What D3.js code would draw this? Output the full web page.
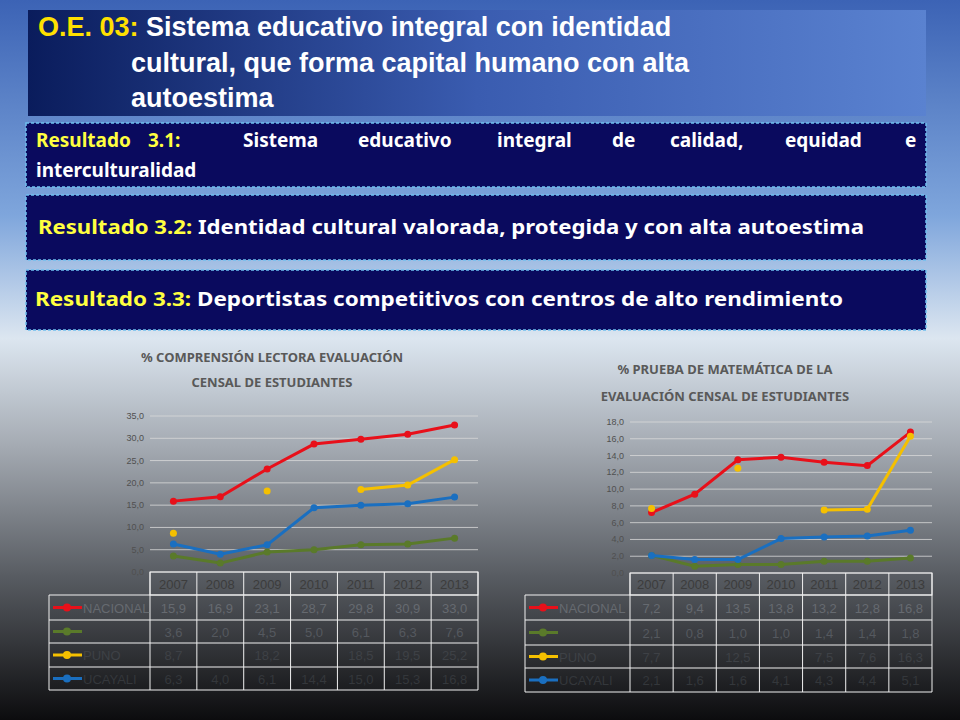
<!DOCTYPE html>
<html><head><meta charset="utf-8">
<script src="https://cdn.jsdelivr.net/npm/d3@7"></script>
<style>body{margin:0}svg{display:block}</style>
</head><body>
<svg width="960" height="720"></svg>
<script>
var years = ["2007","2008","2009","2010","2011","2012","2013"];
var seriesNames = ["NACIONAL", "", "PUNO", "UCAYALI"];
var colors = ["#e8101a", "#5a7a2a", "#f5c000", "#1a6fc0"];
// comprension lectora
var lecNacional = [15.9,16.9,23.1,28.7,29.8,30.9,33.0];
var lecVerde    = [3.6,2.0,4.5,5.0,6.1,6.3,7.6];
var lecPuno     = [8.7,null,18.2,null,18.5,19.5,25.2];
var lecUcayali  = [6.3,4.0,6.1,14.4,15.0,15.3,16.8];
// matematica
var matNacional = [7.2,9.4,13.5,13.8,13.2,12.8,16.8];
var matVerde    = [2.1,0.8,1.0,1.0,1.4,1.4,1.8];
var matPuno     = [7.7,null,12.5,null,7.5,7.6,16.3];
var matUcayali  = [2.1,1.6,1.6,4.1,4.3,4.4,5.1];

var svg = d3.select("svg");
var defs = svg.append("defs");
var bg = defs.append("linearGradient").attr("id","bg").attr("x1",0).attr("y1",0).attr("x2",0).attr("y2",1);
[[0,"#3c63b5"],[0.3,"#7fa6dc"],[0.47,"#dce6f0"],[0.62,"#a4aab2"],[0.8,"#585c62"],[1,"#0c0c0e"]].forEach(function(s){
  bg.append("stop").attr("offset",s[0]).attr("stop-color",s[1]);
});
var tg = defs.append("linearGradient").attr("id","tg");
tg.append("stop").attr("offset",0).attr("stop-color","#0a1c5c");
tg.append("stop").attr("offset",0.5).attr("stop-color","#3a5cb0");
tg.append("stop").attr("offset",1).attr("stop-color","#5a82d0");
svg.append("rect").attr("width",960).attr("height",720).attr("fill","url(#bg)");

// title
svg.append("rect").attr("x",28).attr("y",10).attr("width",898).attr("height",106).attr("fill","url(#tg)");
var t = svg.append("text").attr("font-family","Liberation Sans, Arial").attr("font-size",27).attr("font-weight","bold").attr("fill","#fff");
t.append("tspan").attr("x",38).attr("y",36).attr("fill","#ffe000").text("O.E. 03: ");
t.append("tspan").text("Sistema educativo integral con identidad");
t.append("tspan").attr("x",131).attr("y",72).text("cultural, que forma capital humano con alta");
t.append("tspan").attr("x",131).attr("y",107).text("autoestima");

var box1Words = ["Resultado","3.1:","Sistema","educativo","integral","de","calidad,","equidad","e"];
var box2Text = ["Resultado 3.2: ","Identidad cultural valorada, protegida y con alta autoestima"];
var box3Text = ["Resultado  3.3: ","Deportistas competitivos con centros de alto rendimiento"];
[[123,64],[195,65],[270,60]].forEach(function(b){
  svg.append("rect").attr("x",26).attr("y",b[0]).attr("width",900).attr("height",b[1])
    .attr("fill","#0a0a5e").attr("stroke","#6fc0f0").attr("stroke-dasharray","3,2").attr("stroke-width",1.5);
});
var bf = "Noto Sans, Open Sans, sans-serif";
var jx = [36,148,243,358,497,612,670,785,905];
box1Words.forEach(function(w,i){
  svg.append("text").attr("x",jx[i]).attr("y",147).attr("font-family",bf).attr("font-weight","bold").attr("font-size",19)
    .attr("fill", i<2 ? "#ffff40" : "#fff").text(w);
});
svg.append("text").attr("x",36).attr("y",177).attr("font-family",bf).attr("font-weight","bold").attr("font-size",19).attr("fill","#fff").text("interculturalidad");
[[38,234,box2Text,826],[35,306,box3Text,808]].forEach(function(p){
  var tt = svg.append("text").attr("x",p[0]).attr("y",p[1]).attr("font-family",bf).attr("font-weight","bold").attr("font-size",20)
    .attr("fill","#fff").attr("textLength",p[3]).attr("lengthAdjust","spacingAndGlyphs");
  tt.append("tspan").attr("fill","#ffff40").text(p[2][0]);
  tt.append("tspan").text(p[2][1]);
});

function chart(cfg){
  var g = svg.append("g");
  var x = d3.scaleBand().domain(years).range([cfg.x0,cfg.x1]);
  var y = d3.scaleLinear().domain([0,cfg.max]).range([cfg.y1,cfg.y0]);
  var ticks = d3.range(0,cfg.max+0.001,cfg.step);
  g.selectAll("line.grid").data(ticks).enter().append("line").attr("class","grid")
    .attr("x1",cfg.x0).attr("x2",cfg.x1).attr("y1",y).attr("y2",y).attr("stroke","#d9d9d9").attr("stroke-width",0.8);
  g.selectAll("text.tk").data(ticks).enter().append("text").attr("class","tk")
    .attr("x",cfg.x0-6).attr("y",function(d){return y(d)+3;}).attr("text-anchor","end")
    .attr("font-family","Liberation Sans, Arial").attr("font-size",9).attr("fill","#505050")
    .text(function(d){return d.toFixed(1).replace(".",",");});
  cfg.titles.forEach(function(s,i){
    g.append("text").attr("x",cfg.tx).attr("y",cfg.ty[i]).attr("text-anchor","middle").attr("font-family",bf)
      .attr("font-weight","bold").attr("font-size",13).attr("fill","#595959").text(s);
  });
  var cx = function(i){return x(years[i])+x.bandwidth()/2;};
  cfg.series.forEach(function(vals,k){
    var line = d3.line().defined(function(d){return d!=null;}).x(function(d,i){return cx(i);}).y(function(d){return y(d);});
    g.append("path").datum(vals).attr("d",line).attr("fill","none").attr("stroke",colors[k]).attr("stroke-width",3);
    g.selectAll("circle.p"+k).data(vals.map(function(v,i){return {v:v,i:i};}).filter(function(d){return d.v!=null;}))
      .enter().append("circle").attr("class","p"+k).attr("cx",function(d){return cx(d.i);}).attr("cy",function(d){return y(d.v);})
      .attr("r",3.5).attr("fill",colors[k]);
  });
  // table
  var rows = cfg.rows;
  var tcol = "#f0f0f0";
  g.append("rect").attr("x",cfg.x0).attr("y",rows[0]).attr("width",cfg.x1-cfg.x0).attr("height",rows[1]-rows[0]).attr("fill","none").attr("stroke",tcol);
  years.forEach(function(yr,i){
    g.append("line").attr("x1",x(yr)).attr("x2",x(yr)).attr("y1",rows[0]).attr("y2",rows[rows.length-1]).attr("stroke",tcol);
    g.append("text").attr("x",cx(i)).attr("y",(rows[0]+rows[1])/2+5).attr("text-anchor","middle")
      .attr("font-family","Liberation Sans, Arial").attr("font-size",13).attr("fill","#3c3c3c").text(yr);
  });
  for(var r=1;r<rows.length;r++){
    g.append("line").attr("x1",cfg.lx).attr("x2",cfg.x1).attr("y1",rows[r]).attr("y2",rows[r]).attr("stroke",tcol);
  }
  g.append("line").attr("x1",cfg.lx).attr("x2",cfg.lx).attr("y1",rows[1]).attr("y2",rows[rows.length-1]).attr("stroke",tcol);
  g.append("line").attr("x1",cfg.x1).attr("x2",cfg.x1).attr("y1",rows[0]).attr("y2",rows[rows.length-1]).attr("stroke",tcol);
  var tc = ["#666a70","#50545a","#3e4146","#34373b"];
  cfg.series.forEach(function(vals,k){
    var my = (rows[k+1]+rows[k+2])/2;
    g.append("line").attr("x1",cfg.lx+4).attr("x2",cfg.lx+33).attr("y1",my).attr("y2",my).attr("stroke",colors[k]).attr("stroke-width",3);
    g.append("circle").attr("cx",cfg.lx+18).attr("cy",my).attr("r",4).attr("fill",colors[k]);
    g.append("text").attr("x",cfg.lx+34).attr("y",my+5).attr("font-family","Liberation Sans, Arial").attr("font-size",13)
      .attr("fill",tc[k]).text(seriesNames[k]);
    vals.forEach(function(v,i){
      if(v==null) return;
      g.append("text").attr("x",cx(i)).attr("y",my+5).attr("text-anchor","middle").attr("font-family","Liberation Sans, Arial")
        .attr("font-size",13).attr("fill",k==1?"#55595f":tc[k]).text(v.toFixed(1).replace(".",","));
    });
  });
}

chart({x0:150,x1:478,y0:416,y1:572,max:35,step:5,lx:49,rows:[572,595,620,643,667,690],
  tx:272,ty:[362,387],titles:["% COMPRENSIÓN LECTORA  EVALUACIÓN","CENSAL DE ESTUDIANTES"],
  series:[lecNacional,lecVerde,lecPuno,lecUcayali]});
chart({x0:630,x1:932,y0:422,y1:573,max:18,step:2,lx:525,rows:[573,595,620,645,668,692],
  tx:725,ty:[374,401],titles:["% PRUEBA DE MATEMÁTICA DE LA","EVALUACIÓN CENSAL DE ESTUDIANTES"],
  series:[matNacional,matVerde,matPuno,matUcayali]});
</script>
</body></html>
